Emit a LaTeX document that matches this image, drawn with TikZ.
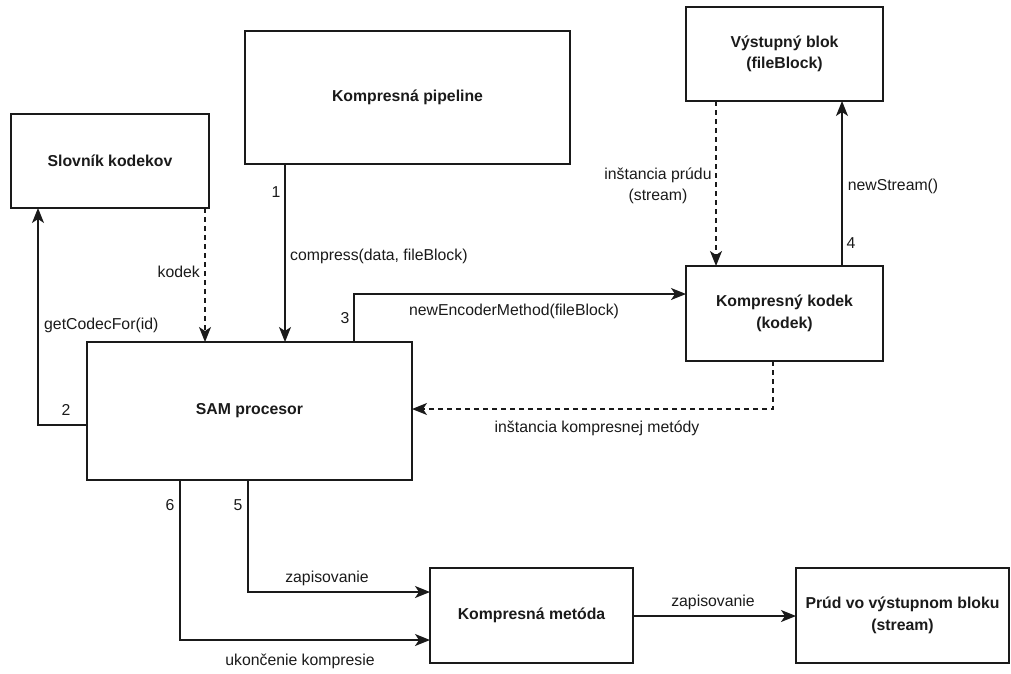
\documentclass[tikz,border=0pt]{standalone}
\usepackage{fontspec}
\setmainfont{Liberation Sans}
\usetikzlibrary{arrows.meta}
\definecolor{ink}{HTML}{1A1A1A}
\begin{document}
\begin{tikzpicture}[x=1pt,y=-1pt,
  every node/.style={font=\fontsize{15.8}{21.5}\selectfont, text=ink},
  box/.style={draw=ink, line width=1.4pt, rectangle, inner sep=0pt, outer sep=0pt,
    align=center, font=\fontsize{15.8}{21.5}\selectfont\bfseries},
  lbl/.style={inner sep=0pt, align=center},
  link/.style={draw=ink, line width=1.4pt, -{Stealth[length=15pt,width=12pt,inset=4pt]}},
  back/.style={link, dash pattern=on 5pt off 4pt}
]
\useasboundingbox (0,0) rectangle (1011,673);

% boxes
\node[box, minimum width=325pt, minimum height=133pt] (pipe) at (407.5,97.5) {Kompresná pipeline};
\node[box, minimum width=198pt, minimum height=94pt] (slov) at (110,161) {Slovník kodekov};
\node[box, minimum width=197pt, minimum height=94pt] (vyst) at (784.5,54) {Výstupný blok\\(fileBlock)};
\node[box, minimum width=197pt, minimum height=95pt] (kodek) at (784.5,313.5) {Kompresný kodek\\(kodek)};
\node[box, minimum width=325pt, minimum height=138pt] (sam) at (249.5,411) {SAM procesor};
\node[box, minimum width=203pt, minimum height=95pt] (metoda) at (531.5,615.5) {Kompresná metóda};
\node[box, minimum width=213pt, minimum height=95pt] (prud) at (902.5,615.5) {Prúd vo výstupnom bloku\\(stream)};

% columns and rows used by the connectors
\coordinate (c1) at (285,0);
\coordinate (c2) at (38,0);
\coordinate (r2) at (0,425);
\coordinate (ck) at (205,0);
\coordinate (c3) at (354,0);
\coordinate (r3) at (0,294);
\coordinate (c4) at (842,0);
\coordinate (cs) at (716,0);
\coordinate (cm) at (773,0);
\coordinate (rm) at (0,409);
\coordinate (c5) at (248,0);
\coordinate (r5) at (0,592);
\coordinate (c6) at (180,0);
\coordinate (r6) at (0,640);
\coordinate (rz) at (0,616);

% connectors
\draw[link] (pipe.south -| c1) -- (sam.north -| c1);
\draw[link] (sam.west |- r2) -- (c2 |- r2) -- (slov.south -| c2);
\draw[back] (slov.south -| ck) -- (sam.north -| ck);
\draw[link] (sam.north -| c3) -- (c3 |- r3) -- (kodek.west |- r3);
\draw[link] (kodek.north -| c4) -- (vyst.south -| c4);
\draw[back] (vyst.south -| cs) -- (kodek.north -| cs);
\draw[back] (kodek.south -| cm) -- (cm |- rm) -- (sam.east |- rm);
\draw[link] (sam.south -| c5) -- (c5 |- r5) -- (metoda.west |- r5);
\draw[link] (sam.south -| c6) -- (c6 |- r6) -- (metoda.west |- r6);
\draw[link] (metoda.east |- rz) -- (prud.west |- rz);

% connector labels
\node[lbl] (n1) at (276,192) {1};
\node[lbl, anchor=west] (l1) at (290,256) {compress(data, fileBlock)};
\node[lbl] (n2) at (66,410) {2};
\node[lbl, anchor=west] (l2) at (44,325) {getCodecFor(id)};
\node[lbl, anchor=east] (lk) at (200,272) {kodek};
\node[lbl] (n3) at (345,318) {3};
\node[lbl] (l3) at (514,311) {newEncoderMethod(fileBlock)};
\node[lbl] (n4) at (851,243) {4};
\node[lbl] (l4) at (893,186) {newStream()};
\node[lbl] (ls) at (658,186) {inštancia prúdu\\(stream)};
\node[lbl] (lm) at (597,428) {inštancia kompresnej metódy};
\node[lbl] (n5) at (238,505) {5};
\node[lbl] (n6) at (170,505) {6};
\node[lbl] (l5) at (327,578) {zapisovanie};
\node[lbl] (l6) at (300,661) {ukončenie kompresie};
\node[lbl] (lz) at (713,602) {zapisovanie};
\end{tikzpicture}
\end{document}
